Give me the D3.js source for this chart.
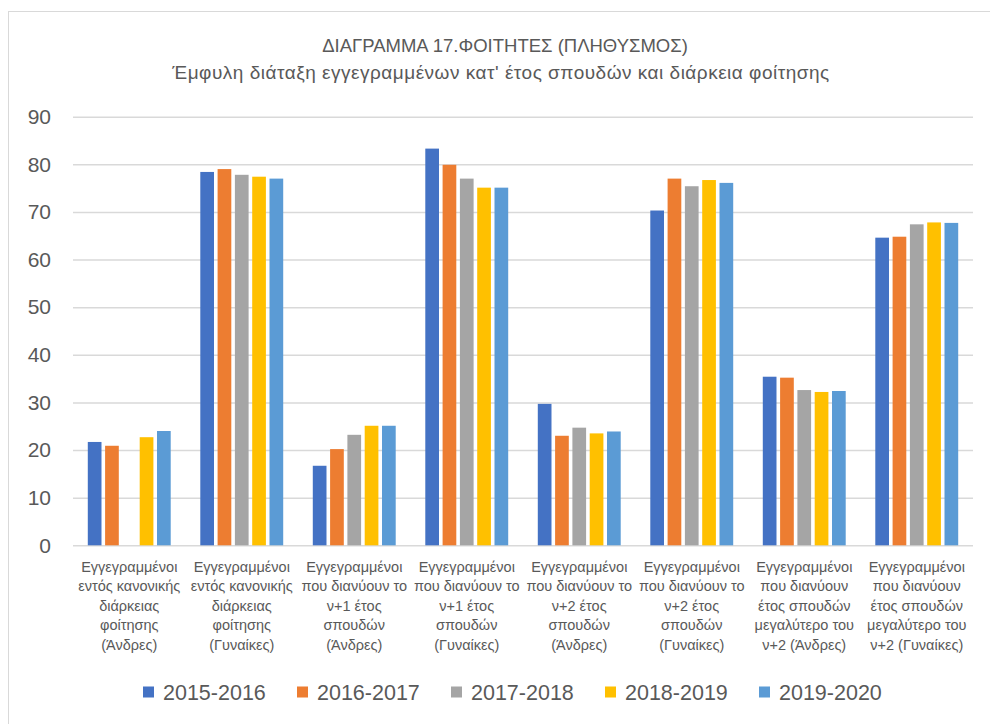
<!DOCTYPE html>
<html>
<head>
<meta charset="utf-8">
<script src="https://cdn.jsdelivr.net/npm/d3@7"></script>
<style>
  body { margin: 0; background: #fff; }
  svg { display: block; font-family: "Liberation Sans", Arial, sans-serif; }
</style>
</head>
<body>
<svg id="chart" width="990" height="724"></svg>
<script>
// chart data
const titleLines = [
    "ΔΙΑΓΡΑΜΜΑ 17.ΦΟΙΤΗΤΕΣ (ΠΛΗΘΥΣΜΟΣ)",
    "Έμφυλη διάταξη εγγεγραμμένων κατ' έτος σπουδών και διάρκεια φοίτησης"
];

const categories = [
    ["Εγγεγραμμένοι", "εντός κανονικής", "διάρκειας", "φοίτησης", "(Άνδρες)"],
    ["Εγγεγραμμένοι", "εντός κανονικής", "διάρκειας", "φοίτησης", "(Γυναίκες)"],
    ["Εγγεγραμμένοι", "που διανύουν το", "ν+1 έτος", "σπουδών", "(Άνδρες)"],
    ["Εγγεγραμμένοι", "που διανύουν το", "ν+1 έτος", "σπουδών", "(Γυναίκες)"],
    ["Εγγεγραμμένοι", "που διανύουν το", "ν+2 έτος", "σπουδών", "(Άνδρες)"],
    ["Εγγεγραμμένοι", "που διανύουν το", "ν+2 έτος", "σπουδών", "(Γυναίκες)"],
    ["Εγγεγραμμένοι", "που διανύουν", "έτος σπουδών", "μεγαλύτερο του", "ν+2 (Άνδρες)"],
    ["Εγγεγραμμένοι", "που διανύουν", "έτος σπουδών", "μεγαλύτερο του", "ν+2 (Γυναίκες)"]
];

const seriesNames = ["2015-2016", "2016-2017", "2017-2018", "2018-2019", "2019-2020"];
const seriesColors = ["#4472C4", "#ED7D31", "#A5A5A5", "#FFC000", "#5B9BD5"];

// one array per academic year, in category order (null = no bar)
const v2015 = [21.7, 78.4, 16.7, 83.3, 29.7, 70.3, 35.4, 64.6];
const v2016 = [20.9, 79.0, 20.2, 79.9, 23.0, 77.0, 35.2, 64.8];
const v2017 = [null, 77.8, 23.2, 77.0, 24.7, 75.4, 32.6, 67.4];
const v2018 = [22.7, 77.4, 25.1, 75.1, 23.5, 76.7, 32.2, 67.8];
const v2019 = [24.0, 77.0, 25.1, 75.1, 23.9, 76.1, 32.4, 67.7];
const seriesValues = [v2015, v2016, v2017, v2018, v2019];

const yTicks = [0, 10, 20, 30, 40, 50, 60, 70, 80, 90];

// layout
const svg = d3.select('#chart');
const textColor = '#595959';
const plot = { left: 73, right: 973, top: 116.7, bottom: 545.3 };

// chart frame (only left/top edges fall inside the picture)
svg.append('rect')
    .attr('x', 8.5)
    .attr('y', 11.5)
    .attr('width', 990)
    .attr('height', 720)
    .attr('fill', 'none')
    .attr('stroke', '#d9d9d9')
    .attr('stroke-width', 1);

// title, two lines
svg.selectAll('.title')
    .data(titleLines)
    .join('text')
    .attr('class', 'title')
    .attr('x', (d, i) => i === 0 ? 505 : 501)
    .attr('y', (d, i) => 52 + i * 27)
    .attr('text-anchor', 'middle')
    .attr('fill', textColor)
    .style('font-size', (d, i) => i === 0 ? '18.5px' : '19px')
    .style('letter-spacing', (d, i) => i === 0 ? '0px' : '0.5px')
    .text(d => d);

// scales
const x0 = d3.scaleBand()
    .domain(d3.range(categories.length))
    .range([plot.left, plot.right])
    .paddingInner(0.263)
    .paddingOuter(0.1315);

const x1 = d3.scaleBand()
    .domain(d3.range(seriesNames.length))
    .range([0, x0.bandwidth()])
    .paddingInner(0.208);

const y = d3.scaleLinear()
    .domain([0, 90])
    .range([plot.bottom, plot.top]);

// gridlines + y labels
const yAxis = d3.axisLeft(y)
    .tickValues(yTicks)
    .tickSize(-(plot.right - plot.left))
    .tickPadding(22);

const yG = svg.append('g')
    .attr('transform', `translate(${plot.left},0)`)
    .call(yAxis);
yG.select('.domain').remove();
yG.selectAll('.tick line')
    .attr('stroke', '#d9d9d9')
    .attr('stroke-width', 1.5);
yG.selectAll('.tick text')
    .attr('fill', textColor)
    .style('font-family', '"Liberation Sans", Arial, sans-serif')
    .style('font-size', '21px');

// bars
const groups = svg.append('g')
    .selectAll('g')
    .data(categories.map((c, i) => i))
    .join('g')
    .attr('transform', i => `translate(${x0(i)},0)`);

groups.selectAll('rect')
    .data(ci => seriesValues.map((vals, si) => ({ si, v: vals[ci] })).filter(d => d.v != null))
    .join('rect')
    .attr('x', d => x1(d.si))
    .attr('y', d => y(d.v))
    .attr('width', x1.bandwidth())
    .attr('height', d => y(0) - y(d.v))
    .attr('fill', d => seriesColors[d.si]);

// category labels (multi-line)
const catG = svg.append('g');
categories.forEach((lines, i) => {
    const cx = x0(i) + x0.bandwidth() / 2;
    const t = catG.append('text')
        .attr('x', cx)
        .attr('y', 572)
        .attr('text-anchor', 'middle')
        .attr('fill', textColor)
        .style('font-size', '14.5px');
    lines.forEach((line, j) => {
        t.append('tspan')
            .attr('x', cx)
            .attr('dy', j === 0 ? 0 : 19.4)
            .text(line);
    });
});

// legend
const legend = svg.append('g')
    .attr('transform', 'translate(143,692)');

const legItems = legend.selectAll('g')
    .data(seriesNames)
    .join('g')
    .attr('transform', (d, i) => `translate(${i * 154},0)`);

legItems.append('rect')
    .attr('x', 0)
    .attr('y', -5.5)
    .attr('width', 11)
    .attr('height', 11)
    .attr('fill', (d, i) => seriesColors[i]);

legItems.append('text')
    .attr('x', 20)
    .attr('y', 7.5)
    .attr('fill', textColor)
    .style('font-size', '21.5px')
    .text(d => d);
</script>
</body>
</html>
